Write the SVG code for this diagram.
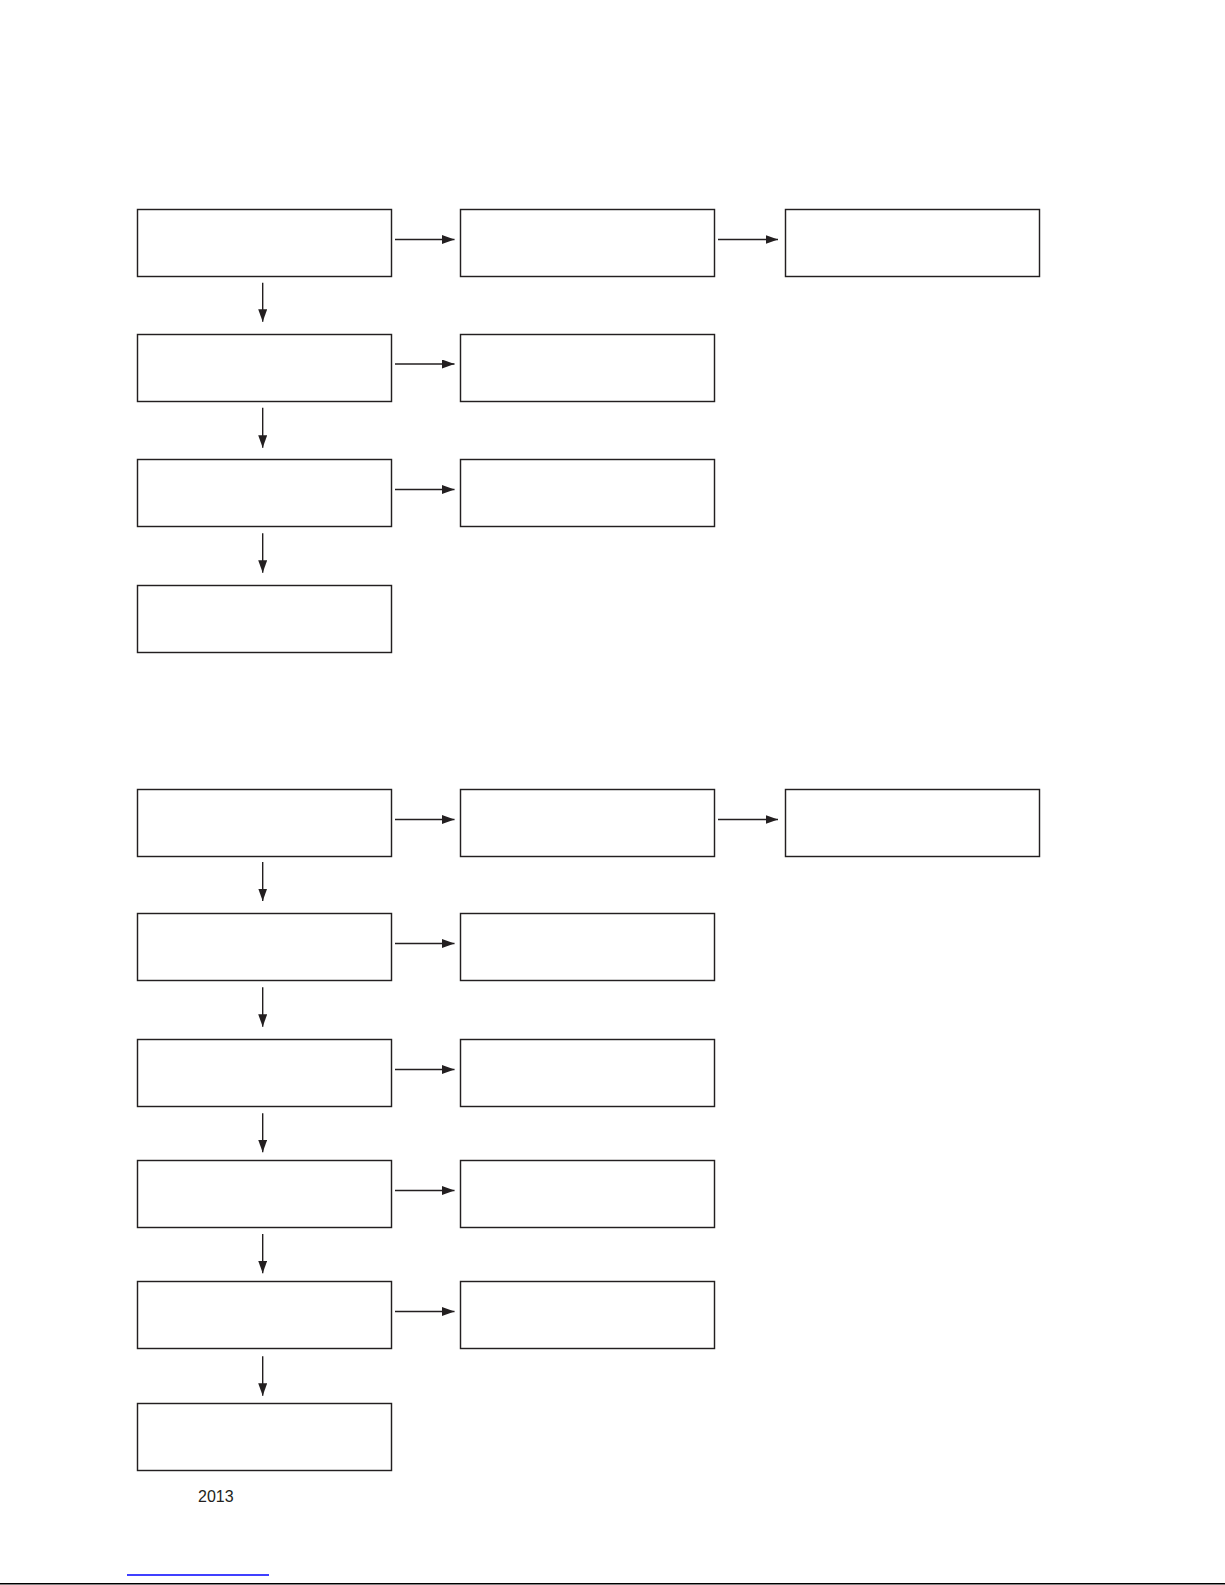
<svg xmlns="http://www.w3.org/2000/svg" width="1225" height="1585" viewBox="0 0 1225 1585">
<style>
.box{fill:#fff;stroke:#231f20;stroke-width:1.45}
.con{stroke:#231f20;stroke-width:1.4;fill:none}
.ha{marker-end:url(#ah)}
</style>
<defs>
<marker id="ah" markerUnits="userSpaceOnUse" markerWidth="13" markerHeight="10" refX="12.5" refY="4.5" orient="auto">
<path d="M0,0 L12.5,4.5 L0,9 z" fill="#231f20"/>
</marker>
</defs>
<rect width="1225" height="1585" fill="#fff"/>
<g id="nodes">
<g id="t1"><rect class="box" x="137.5" y="209.5" width="254" height="67"/></g>
<g id="t2"><rect class="box" x="460.5" y="209.5" width="254" height="67"/></g>
<g id="t3"><rect class="box" x="785.5" y="209.5" width="254" height="67"/></g>
<g id="t4"><rect class="box" x="137.5" y="334.5" width="254" height="67"/></g>
<g id="t5"><rect class="box" x="460.5" y="334.5" width="254" height="67"/></g>
<g id="t6"><rect class="box" x="137.5" y="459.5" width="254" height="67"/></g>
<g id="t7"><rect class="box" x="460.5" y="459.5" width="254" height="67"/></g>
<g id="t8"><rect class="box" x="137.5" y="585.5" width="254" height="67"/></g>
<g id="b1"><rect class="box" x="137.5" y="789.5" width="254" height="67"/></g>
<g id="b2"><rect class="box" x="460.5" y="789.5" width="254" height="67"/></g>
<g id="b3"><rect class="box" x="785.5" y="789.5" width="254" height="67"/></g>
<g id="b4"><rect class="box" x="137.5" y="913.5" width="254" height="67"/></g>
<g id="b5"><rect class="box" x="460.5" y="913.5" width="254" height="67"/></g>
<g id="b6"><rect class="box" x="137.5" y="1039.5" width="254" height="67"/></g>
<g id="b7"><rect class="box" x="460.5" y="1039.5" width="254" height="67"/></g>
<g id="b8"><rect class="box" x="137.5" y="1160.5" width="254" height="67"/></g>
<g id="b9"><rect class="box" x="460.5" y="1160.5" width="254" height="67"/></g>
<g id="b10"><rect class="box" x="137.5" y="1281.5" width="254" height="67"/></g>
<g id="b11"><rect class="box" x="460.5" y="1281.5" width="254" height="67"/></g>
<g id="b12"><rect class="box" x="137.5" y="1403.5" width="254" height="67"/></g>
</g>
<g id="connectors">
<line class="con ha" x1="395" y1="239.5" x2="454.5" y2="239.5"/>
<line class="con ha" x1="718" y1="239.5" x2="778" y2="239.5"/>
<line class="con ha" x1="395" y1="364" x2="454.5" y2="364"/>
<line class="con ha" x1="395" y1="489.5" x2="454.5" y2="489.5"/>
<line class="con ha" x1="262.7" y1="282.7" x2="262.7" y2="321.7"/>
<line class="con ha" x1="262.7" y1="407.7" x2="262.7" y2="447.7"/>
<line class="con ha" x1="262.7" y1="533.3" x2="262.7" y2="572.7"/>
<line class="con ha" x1="395" y1="819.5" x2="454.5" y2="819.5"/>
<line class="con ha" x1="718" y1="819.5" x2="778" y2="819.5"/>
<line class="con ha" x1="395" y1="943.5" x2="454.5" y2="943.5"/>
<line class="con ha" x1="395" y1="1069.5" x2="454.5" y2="1069.5"/>
<line class="con ha" x1="395" y1="1190.5" x2="454.5" y2="1190.5"/>
<line class="con ha" x1="395" y1="1311.5" x2="454.5" y2="1311.5"/>
<line class="con ha" x1="262.7" y1="862" x2="262.7" y2="901"/>
<line class="con ha" x1="262.7" y1="987.3" x2="262.7" y2="1026.7"/>
<line class="con ha" x1="262.7" y1="1113.3" x2="262.7" y2="1152.3"/>
<line class="con ha" x1="262.7" y1="1234" x2="262.7" y2="1273.3"/>
<line class="con ha" x1="262.7" y1="1356.3" x2="262.7" y2="1395.7"/>
</g>
<text x="198" y="1501.5" font-family="'Liberation Sans', Arial, sans-serif" font-size="16" fill="#231f20">2013</text>
<line x1="127" y1="1575" x2="269" y2="1575" stroke="#0000ff" stroke-width="1.5"/>
<line x1="0" y1="1583.8" x2="1225" y2="1583.8" stroke="#000" stroke-width="1.6"/>
</svg>
